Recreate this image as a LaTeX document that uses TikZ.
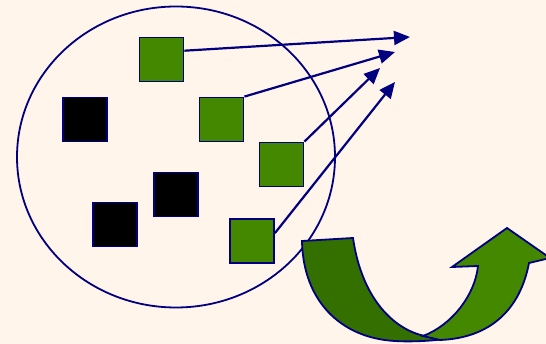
\documentclass[tikz,border=0pt]{standalone}
\usepackage{tikz}
\usetikzlibrary{arrows.meta,shapes.geometric}
\definecolor{cream}{HTML}{FFF5EA}
\definecolor{leaf}{HTML}{448800}
\definecolor{darkleaf}{HTML}{347000}
\definecolor{ink}{HTML}{000080}

\begin{document}
\begin{tikzpicture}[
      x=1pt, y=-1pt,
      sq/.style={draw=ink, line width=1.8pt, minimum size=44pt, inner sep=0pt},
      good/.style={sq, fill=leaf},
      bad/.style={sq, fill=black},
      arr/.style={-{Triangle[length=16pt, width=14pt]}, draw=ink, line width=2.2pt}
    ]
      \fill[cream] (0,0) rectangle (546,344);
      \useasboundingbox (0,0) rectangle (546,344);
      \node[ellipse, draw=ink, line width=1.8pt, minimum width=318pt, minimum height=301pt] (set) at (176,157) {};
      \node[good] (g1) at (161.5,59.5) {};
      \node[bad] (b1) at (85,119.5) {};
      \node[good] (g2) at (221.5,119.5) {};
      \node[good] (g3) at (281.5,164.5) {};
      \node[bad] (b2) at (176,194.5) {};
      \node[bad] (b3) at (115,224.5) {};
      \node[good] (g4) at (252,241) {};
      \coordinate (t1) at (410,37);
      \coordinate (t2) at (395,52);
      \coordinate (t3) at (380,68);
      \coordinate (t4) at (395,82);
      \draw[arr] (g1.21) -- (t1);
      \draw[arr] (g2.north east) -- (t2);
      \draw[arr] (g3.north east) -- (t3);
      \draw[arr] (g4.19) -- (t4);
      % u-turn arrow
      \draw[ink, line width=1.8pt, fill=darkleaf] (302,241) -- (353,238)
        .. controls (362,300) and (395,330) .. (425,336) -- (445,339)
        .. controls (430,341) and (410,342) .. (395,341)
        .. controls (340,338) and (303,300) .. (302,241) -- cycle;
      \draw[ink, line width=1.8pt, fill=leaf] (423,336)
        .. controls (452,325) and (475,295) .. (478,266) -- (452,267)
        -- (507,228) -- (550,258) -- (529,263)
        .. controls (520,310) and (490,338) .. (440,340) -- cycle;
    \end{tikzpicture}
\end{document}
